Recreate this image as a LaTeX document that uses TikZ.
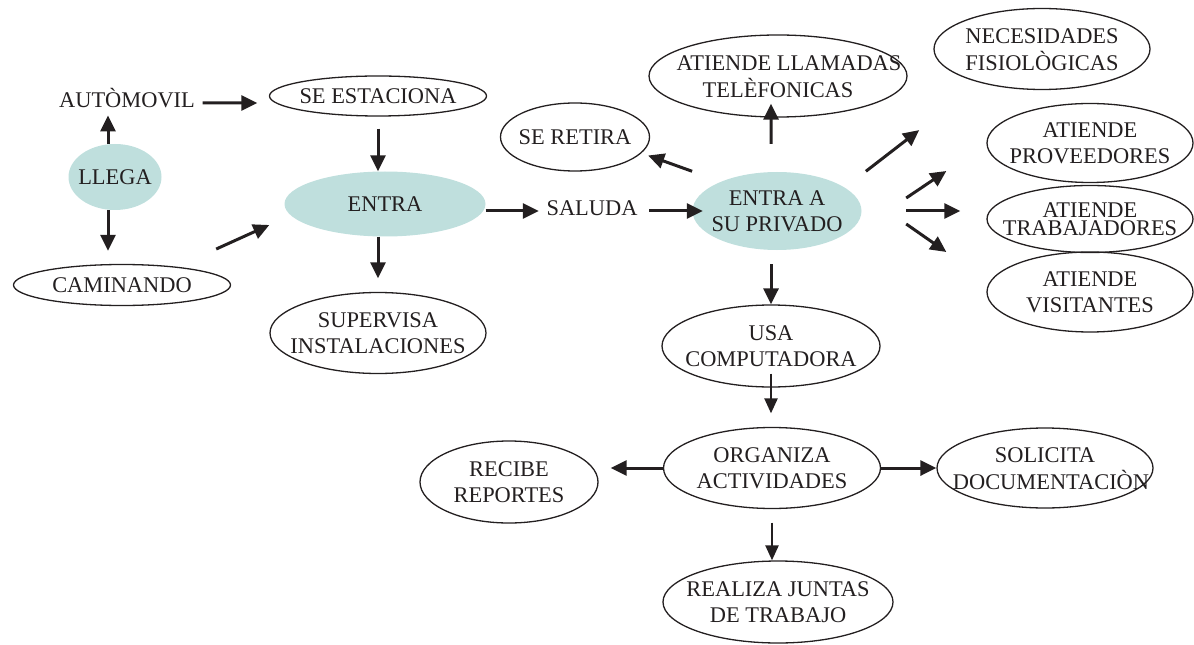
\documentclass[tikz,border=0pt]{standalone}
\usepackage{fontspec}
\setmainfont{Liberation Serif}
\usepackage{tikz}
\usetikzlibrary{shapes.geometric,positioning,arrows.meta}

\definecolor{ink}{HTML}{231F20}
\definecolor{tealfill}{HTML}{BFDFDD}
\newcommand{\ltext}[1]{\raisebox{-2.5bp}[\height][\depth]{\makebox[0pt]{\begin{tabular}{@{}c@{}}#1\end{tabular}}}}

\tikzset{
  ell/.style={ellipse, draw=ink, line width=1.3bp, inner sep=0pt},
  fillell/.style={ellipse, fill=tealfill, inner sep=0pt},
  plain/.style={inner sep=7.5bp},
  arr/.style={-{Triangle[length=16bp,width=15bp]}, draw=ink, line width=3bp},
  thinarr/.style={-{Triangle[length=15bp,width=13bp]}, draw=ink, line width=2.4bp}
}

\begin{document}
\begin{tikzpicture}[x=1bp, y=-1bp, on grid, text=ink,
    font=\fontsize{22.5}{26}\selectfont]
        \useasboundingbox (0,0) rectangle (1194,645);
        \node [fillell, minimum width=93bp, minimum height=66bp] (llega) at (115,177) {\ltext{LLEGA}};
        \node [plain, above right=79bp and 12bp of llega] (auto) {AUTÒMOVIL};
        \node [ell, minimum width=217bp, minimum height=41bp, below right=108bp and 7bp of llega] (caminando) {\ltext{CAMINANDO}};
        \node [ell, minimum width=217bp, minimum height=40bp, above right=2bp and 251bp of auto] (seest) {\ltext{SE ESTACIONA}};
        \node [fillell, minimum width=201bp, minimum height=65bp, below right=108bp and 7bp of seest] (entra) {\ltext{ENTRA}};
        \node [ell, minimum width=216bp, minimum height=81bp, below left=129bp and 7bp of entra] (supervisa) {\ltext{SUPERVISA\\INSTALACIONES}};
        \node [plain, below right=4bp and 207bp of entra] (saluda) {SALUDA};
        \node [fillell, minimum width=169bp, minimum height=78bp, below right=3bp and 185bp of saluda] (privado) {\ltext{ENTRA A\\SU PRIVADO}};
        \node [ell, minimum width=149bp, minimum height=68bp, above left=74bp and 202bp of privado] (seretira) {\ltext{SE RETIRA}};
        \node [ell, minimum width=258bp, minimum height=82bp, above right=135bp and 1bp of privado] (llamadas) {\ltext{\hspace*{22bp}ATIENDE LLAMADAS\\TELÈFONICAS}};
        \node [ell, minimum width=216bp, minimum height=81bp, above right=162bp and 265bp of privado] (necesidades) {\ltext{NECESIDADES\\FISIOLÒGICAS}};
        \node [ell, minimum width=206bp, minimum height=79bp, above right=68bp and 313bp of privado] (proveedores) {\ltext{ATIENDE\\PROVEEDORES}};
        \node [ell, minimum width=206bp, minimum height=67bp, below right=8bp and 313bp of privado] (trabajadores) {\ltext{ATIENDE\\[-8bp]TRABAJADORES}};
        \node [ell, minimum width=206bp, minimum height=80bp, below right=81bp and 313bp of privado] (visitantes) {\ltext{ATIENDE\\VISITANTES}};
        \node [ell, minimum width=218bp, minimum height=82bp, below left=135bp and 6bp of privado] (usa) {\ltext{USA\\COMPUTADORA}};
        \node [ell, minimum width=217bp, minimum height=81bp, below right=122bp and 1bp of usa] (organiza) {\ltext{ORGANIZA\\ACTIVIDADES}};
        \node [ell, minimum width=178bp, minimum height=82bp, below left=14bp and 263bp of organiza] (recibe) {\ltext{RECIBE\\REPORTES}};
        \node [ell, minimum width=216bp, minimum height=80bp, right=273bp of organiza] (solicita) {\ltext{SOLICITA\\\hspace*{12bp}DOCUMENTACIÒN}};
        \node [ell, minimum width=230bp, minimum height=82bp, below right=134bp and 6bp of organiza] (realiza) {\ltext{REALIZA JUNTAS\\DE TRABAJO}};
        \draw [arr, shorten >=11.5bp] ([yshift=-5bp]auto.east) -- ([yshift=-7bp]seest.west);
        \draw [arr] ([xshift=-7bp]llega.north) -- ([xshift=-19bp]auto.south);
        \draw [arr, shorten >=13bp] ([xshift=-7bp]llega.south) -- ([xshift=-14bp]caminando.north);
        \draw [arr] ([xshift=17bp,yshift=21bp]caminando.north east) -- ([xshift=-15bp,yshift=-21bp]entra.west);
        \draw [arr, shorten <=12bp] (seest.south) -- ([xshift=-7bp]entra.north);
        \draw [arr, shorten >=13.5bp] ([xshift=-7bp]entra.south) -- (supervisa.north);
        \draw [arr] ([yshift=-7bp]entra.east) -- ([yshift=-3bp]saluda.west);
        \draw [arr, shorten <=4bp, shorten >=-10.5bp] ([yshift=-3bp]saluda.east) -- (privado.west);
        \draw [arr] ([xshift=-25bp,yshift=12bp]privado.north west) -- ([xshift=20bp,yshift=6bp]seretira.south east);
        \draw [arr, shorten <=28bp, shorten >=-14bp] ([xshift=-6bp]privado.north) -- ([xshift=-7bp]llamadas.south);
        \draw [arr] ([xshift=29bp,yshift=12bp]privado.north east) -- ([xshift=-46bp,yshift=-52bp]necesidades.south west);
        \draw [arr] ([xshift=44.5bp,yshift=13bp]privado.east) -- ([xshift=-40bp,yshift=-28bp]proveedores.west);
        \draw [arr, shorten >=26bp] ([xshift=44.5bp]privado.east) -- ([yshift=8bp]trabajadores.west);
        \draw [arr] ([xshift=44.5bp,yshift=-13bp]privado.east) -- ([xshift=-40bp,yshift=40bp]visitantes.west);
        \draw [arr, shorten <=14bp] ([xshift=-6bp]privado.south) -- (usa.north);
        \draw [thinarr, shorten <=-14bp, shorten >=13.5bp] (usa.south) -- (usa.south |- organiza.north);
        \draw [arr, shorten >=12bp] (organiza.west) -- ([yshift=14bp]recibe.east);
        \draw [arr] (organiza.east) -- (solicita.west);
        \draw [thinarr, shorten <=13.5bp] (organiza.south) -- (organiza.south |- realiza.north);
      \end{tikzpicture}
\end{document}
